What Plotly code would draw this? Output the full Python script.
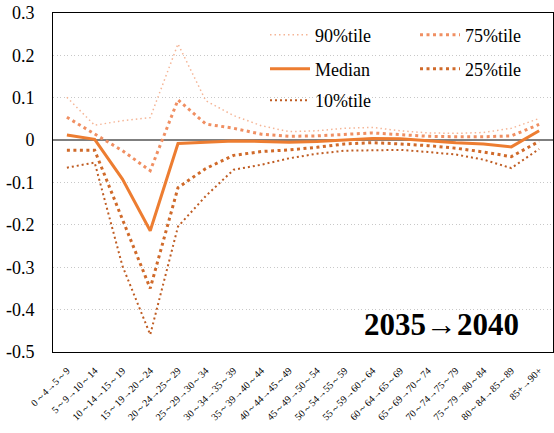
import plotly.graph_objects as go

categories = ["0～4→5～9", "5～9→10～14", "10～14→15～19", "15～19→20～24", "20～24→25～29",
              "25～29→30～34", "30～34→35～39", "35～39→40～44", "40～44→45～49", "45～49→50～54",
              "50～54→55～59", "55～59→60～64", "60～64→65～69", "65～69→70～74", "70～74→75～79",
              "75～79→80～84", "80～84→85～89", "85+→90+"]
p90 = [0.101, 0.035, 0.046, 0.053, 0.227, 0.093, 0.058, 0.034, 0.020, 0.022, 0.028, 0.030,
       0.022, 0.017, 0.016, 0.018, 0.028, 0.051]
p75 = [0.054, 0.014, -0.025, -0.072, 0.095, 0.038, 0.028, 0.014, 0.009, 0.010, 0.014, 0.017,
       0.013, 0.009, 0.008, 0.008, 0.010, 0.037]
median = [0.012, 0.002, -0.092, -0.214, -0.008, -0.005, -0.002, -0.003, -0.005, -0.003, 0.001,
          0.004, 0.003, -0.002, -0.006, -0.009, -0.016, 0.022]
p25 = [-0.024, -0.024, -0.187, -0.350, -0.112, -0.067, -0.036, -0.027, -0.023, -0.017, -0.009,
       -0.006, -0.009, -0.013, -0.019, -0.028, -0.039, -0.003]
p10 = [-0.065, -0.053, -0.297, -0.459, -0.204, -0.132, -0.070, -0.058, -0.043, -0.032, -0.025,
       -0.024, -0.023, -0.028, -0.034, -0.046, -0.066, -0.021]

ytick_vals = [0.3, 0.2, 0.1, 0, -0.1, -0.2, -0.3, -0.4, -0.5]
ytick_text = ["0.3", "0.2", "0.1", "0", "-0.1", "-0.2", "-0.3", "-0.4", "-0.5"]
title_text = "2035→2040"

FONT = "Liberation Serif"

series = [
    ("90%tile", p90, "#F5B596", 1.5, "1.5px,3px", "legend"),
    ("75%tile", p75, "#F08F62", 3, "3px,3.5px", "legend"),
    ("Median", median, "#ED7D31", 3, "solid", "legend2"),
    ("25%tile", p25, "#D06A2A", 3, "3px,3.5px", "legend2"),
    ("10%tile", p10, "#BF5C22", 2, "2px,3px", "legend3"),
]

fig = go.Figure()
for name, vals, color, w, dash, lg in series:
    fig.add_trace(go.Scatter(x=categories, y=vals, name=name, mode="lines",
                             line=dict(color=color, width=w, dash=dash), legend=lg))

leg_common = dict(orientation="h", xanchor="left", yanchor="middle",
                  bgcolor="rgba(0,0,0,0)", font=dict(family=FONT, size=18, color="black"),
                  entrywidth=95, itemwidth=40, tracegroupgap=0)

fig.update_layout(
    width=554, height=433,
    margin=dict(l=53, r=1, t=13, b=81, autoexpand=False),
    plot_bgcolor="white", paper_bgcolor="white",
    font=dict(family=FONT, color="black"),
    legend=dict(x=0.424, y=0.935, **leg_common),
    legend2=dict(x=0.424, y=0.835, **leg_common),
    legend3=dict(x=0.424, y=0.742, **leg_common),
    xaxis=dict(type="category", range=[-0.5, 17.5], tickangle=-45,
               tickfont=dict(family=FONT, size=10, color="black"),
               showline=True, linecolor="black", linewidth=1, mirror=True,
               showgrid=False, ticks="", ticklabelstandoff=8),
    yaxis=dict(range=[-0.5, 0.3], tickvals=ytick_vals, ticktext=ytick_text,
               tickfont=dict(family=FONT, size=18, color="black"),
               showgrid=True, griddash="1px,2.5px", gridcolor="#C8C8C8", gridwidth=1,
               zeroline=True, zerolinecolor="#7F7F7F", zerolinewidth=2,
               showline=True, linecolor="black", linewidth=1, mirror=True,
               ticks="", ticklabelstandoff=14),
    annotations=[dict(text="<b>" + title_text + "</b>", xref="paper", yref="paper",
                      x=0.776, y=0.08, xanchor="center", yanchor="middle", showarrow=False,
                      font=dict(family=FONT, size=31, color="black"))],
)

fig.write_html("out.html", config={"displayModeBar": False},
               post_script="document.body.style.margin='0';document.body.style.overflow='hidden';")
